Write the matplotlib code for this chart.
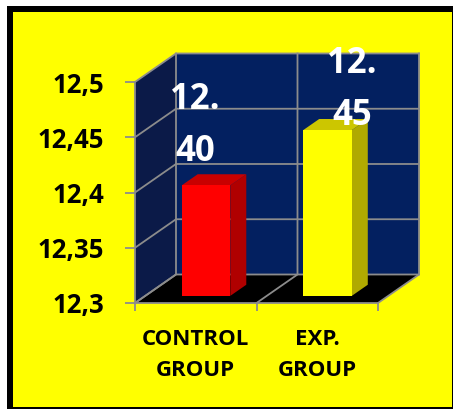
import matplotlib
matplotlib.use("Agg")
import matplotlib.pyplot as plt
from matplotlib.patches import Polygon, Rectangle

plt.rcParams['font.family'] = ['Open Sans', 'DejaVu Sans']
plt.rcParams['font.weight'] = 'bold'

# data
groups = ["CONTROL\nGROUP", "EXP.\nGROUP"]
means = [12.40, 12.45]
yticks = [12.3, 12.35, 12.4, 12.45, 12.5]
ytick_labels = ["12,3", "12,35", "12,4", "12,45", "12,5"]

# styling
face_cols = ["#FF0000", "#FFFF00"]
side_cols = ["#B00000", "#B0AA00"]
top_cols = ["#C80000", "#CCC600"]
lab_dx = [-0.006, 0.286]
lab_dy = [0.060, 0.043]
grid_col = "#8C8C8C"
ymin, ymax = 12.3, 12.5

# oblique depth offset in data units (d = 0 front, 1 back)
DX, DY = 0.3374, 0.0258


def P(x, y, d):
    return (x + d * DX, y + d * DY)


fig = plt.figure(figsize=(4.53, 4.09), dpi=100, facecolor="white")
# frame
fig.add_artist(Rectangle((7 / 453, 0), 446 / 453, 403 / 409, transform=fig.transFigure,
                         facecolor="black", edgecolor="none", zorder=-2))
fig.add_artist(Rectangle((13 / 453, 2 / 409), 439 / 453, 395 / 409, transform=fig.transFigure,
                         facecolor="#FFFF00", edgecolor="none", zorder=-1))

ax = fig.add_axes([135 / 453, 106 / 409, 243 / 453, 221 / 409])
ax.set_facecolor("none")
ax.set_xlim(0, 2)
ax.set_ylim(ymin, ymax)

n = len(groups)
# walls and floor
ax.add_patch(Polygon([P(0, ymin, 1), P(n, ymin, 1), P(n, ymax, 1), P(0, ymax, 1)],
                     closed=True, facecolor="#032060", edgecolor="none", clip_on=False, zorder=1))
ax.add_patch(Polygon([P(0, ymin, 0), P(0, ymin, 1), P(0, ymax, 1), P(0, ymax, 0)],
                     closed=True, facecolor="#0B1A48", edgecolor="none", clip_on=False, zorder=1))
ax.add_patch(Polygon([P(0, ymin, 0), P(n, ymin, 0), P(n, ymin, 1), P(0, ymin, 1)],
                     closed=True, facecolor="black", edgecolor="none", clip_on=False, zorder=1))

# gridlines
for v in yticks:
    xs, ys = zip(P(0, v, 0), P(0, v, 1), P(n, v, 1))
    ax.plot(xs, ys, color=grid_col, lw=1.3, clip_on=False, zorder=2)
for i in range(n + 1):
    xs, ys = zip(P(i, ymin, 0), P(i, ymin, 1), P(i, ymax, 1))
    ax.plot(xs, ys, color=grid_col, lw=1.3, clip_on=False, zorder=2)

# bars
w = 0.2
d0, d1 = 0.25, 0.64
for i, v in enumerate(means):
    c = i + 0.5
    front = [P(c - w, ymin, d0), P(c + w, ymin, d0), P(c + w, v, d0), P(c - w, v, d0)]
    side = [P(c + w, ymin, d0), P(c + w, ymin, d1), P(c + w, v, d1), P(c + w, v, d0)]
    top = [P(c - w, v, d0), P(c + w, v, d0), P(c + w, v, d1), P(c - w, v, d1)]
    ax.add_patch(Polygon(side, facecolor=side_cols[i], edgecolor="none", clip_on=False, zorder=3))
    ax.add_patch(Polygon(top, facecolor=top_cols[i], edgecolor="none", clip_on=False, zorder=3))
    ax.add_patch(Polygon(front, facecolor=face_cols[i], edgecolor="none", clip_on=False, zorder=4))
    txt = "{:.2f}".format(v).replace(".", ".\n")
    ax.text(c + lab_dx[i], v + lab_dy[i], txt, ha="center", va="center", color="white",
            fontsize=25, fontweight="bold", linespacing=1.6, zorder=6)

# axes
for s in ["top", "right"]:
    ax.spines[s].set_visible(False)
for s in ["left", "bottom"]:
    ax.spines[s].set_color(grid_col)
    ax.spines[s].set_linewidth(1.3)
    ax.spines[s].set_zorder(5)
ax.set_yticks(yticks)
ax.set_yticklabels(ytick_labels, fontsize=18.5, fontweight="bold")
ax.set_xticks(range(n + 1))
ax.set_xticklabels([])
ax.set_xticks([i + 0.5 for i in range(n)], minor=True)
ax.set_xticklabels(groups, minor=True, fontsize=16, fontweight="bold", linespacing=1.6)
ax.tick_params(axis="y", length=7, width=1.3, color=grid_col, pad=15)
ax.tick_params(axis="x", which="major", length=6, width=1.3, color=grid_col)
ax.tick_params(axis="x", which="minor", length=0, pad=19)

fig.savefig("out.png", dpi=100, facecolor=fig.get_facecolor())
